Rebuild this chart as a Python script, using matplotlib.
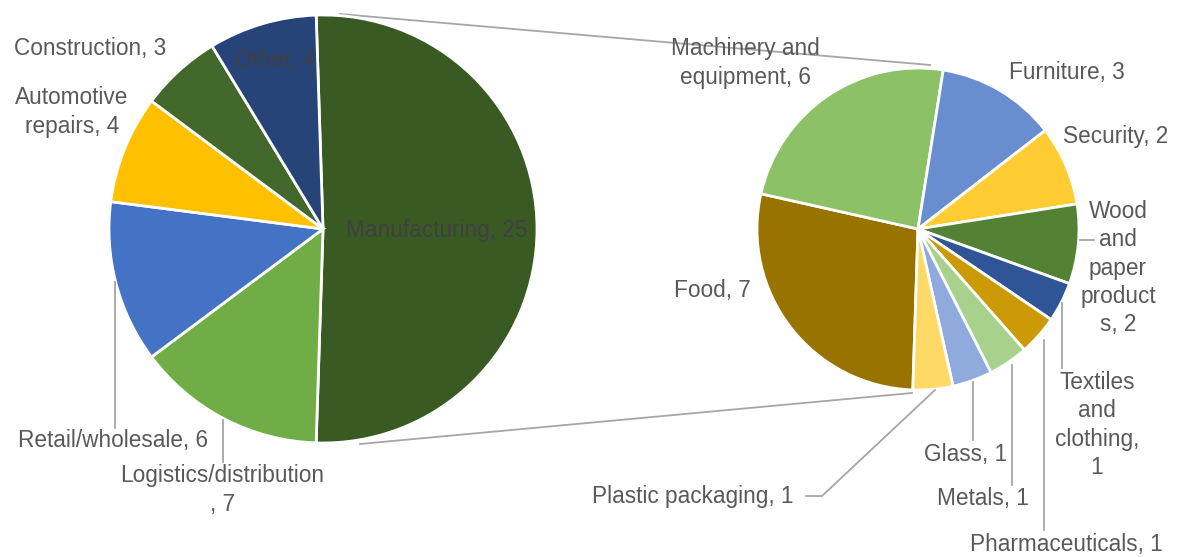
import matplotlib.pyplot as plt
import numpy as np

# main pie (Manufacturing is split out into the second pie)
main_values = [25, 7, 6, 4, 3, 4]
main_text = ["Manufacturing, 25", "Logistics/distribution\n, 7", "Retail/wholesale, 6",
             "Automotive\nrepairs, 4", "Construction, 3", "Other, 4"]
main_colors = ["#3A5A24", "#70AD47", "#4472C4", "#FFC000", "#43682B", "#264478"]

# breakdown of Manufacturing
sub_values = [7, 6, 3, 2, 2, 1, 1, 1, 1, 1]
sub_text = ["Food, 7", "Machinery and\nequipment, 6", "Furniture, 3", "Security, 2",
            "Wood\nand\npaper\nproduct\ns, 2", "Textiles\nand\nclothing,\n1",
            "Pharmaceuticals, 1", "Metals, 1", "Glass, 1", "Plastic packaging, 1"]
sub_colors = ["#997300", "#8CC168", "#698ED0", "#FFCD33", "#548235",
              "#2F5597", "#CC9A06", "#A9D18E", "#8FAADC", "#FFD966"]

W, H = 1179, 557
plt.rcParams["font.family"] = ["Liberation Sans", "DejaVu Sans"]

fig = plt.figure(figsize=(W / 100, H / 100), dpi=100)
ax = fig.add_axes([0, 0, 1, 1])

c1, r1 = (323, H - 229), 214
c2, r2 = (918, H - 229), 161

split = 360 * main_values[0] / sum(main_values)
start1 = 90 + (split - 180) / 2
start2 = -start1

wp = dict(edgecolor="white", linewidth=2)
ax.pie(main_values, colors=main_colors, center=c1, radius=r1, startangle=start1,
       counterclock=False, wedgeprops=wp, frame=True)
ax.pie(sub_values, colors=sub_colors, center=c2, radius=r2, startangle=start2,
       counterclock=False, wedgeprops=wp, frame=True)
ax.set_xlim(0, W)
ax.set_ylim(0, H)
ax.set_aspect("equal")
ax.axis("off")

gray = "#A6A6A6"
# connector lines between the pies
ax.plot([340, 930], [H - 14, H - 65], color=gray, lw=1.3, zorder=0)
ax.plot([360, 912], [H - 444, H - 393], color=gray, lw=1.3, zorder=0)

txt = "#595959"
fs = 16.3
ls = 1.3
main_pos = [(437, 230), (222, 490), (113, 441), (72, 112), (90, 48), (275, 60)]
for i, (t, (x, y)) in enumerate(zip(main_text, main_pos)):
    col = "#404040" if i in (0, 5) else txt
    ax.text(x, H - y, t, ha="center", va="center", fontsize=fs, color=col,
            linespacing=ls)

sub_pos = [(712, 291), (745, 63), (1067, 72), (1116, 137), (1118, 268),
           (1097, 425), (1066, 544), (983, 499), (966, 455), (693, 496)]
for t, (x, y) in zip(sub_text, sub_pos):
    ax.text(x, H - y, t, ha="center", va="center", fontsize=fs, color=txt,
            linespacing=ls)

# leader lines
leaders = [
    [(115, 282), (115, 428)],
    [(223, 420), (223, 462)],
    [(1080, 240), (1094, 240)],
    [(1062, 303), (1062, 368)],
    [(1044, 340), (1044, 530)],
    [(1012, 365), (1012, 485)],
    [(973, 382), (973, 440)],
    [(935, 390), (822, 496), (806, 496)],
]
for pts in leaders:
    xs = [p[0] for p in pts]
    ys = [H - p[1] for p in pts]
    ax.plot(xs, ys, color=gray, lw=1.3, zorder=3)

fig.savefig("out.png", dpi=100)
